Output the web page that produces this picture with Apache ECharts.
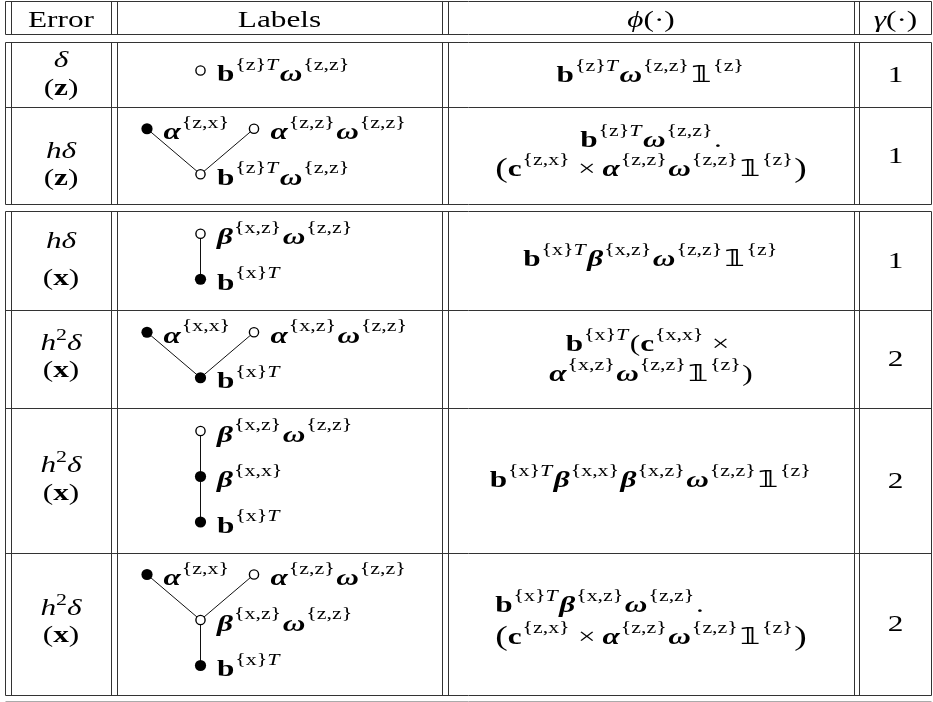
<!DOCTYPE html>
<html><head><meta charset="utf-8">
<script src="https://cdn.jsdelivr.net/npm/echarts@6.0.0/dist/echarts.min.js"></script>
<style>html,body{margin:0;padding:0;background:#fff}#c{width:933px;height:702px}</style>
</head><body><div id="c"></div>
<script>
// ================= DATA (content only) =================
// mini markup: segments "style:text" joined by "|"
// r roman, b bold, i italic, g bold-italic, s superscript ({..} roman, T italic),
// S roman superscript, _ thin space, m binary operator, d double-struck one, P big paren
const headers = ['r:Error', 'r:Labels', 'i:ϕ|r:(·)', 'i:γ|r:(·)'];

const errorLabels = [
  ['i:δ', 'r:(|b:z|r:)'],
  ['i:hδ', 'r:(|b:z|r:)'],
  ['i:hδ', 'r:(|b:x|r:)'],
  ['i:h|S:2|i:δ', 'r:(|b:x|r:)'],
  ['i:h|S:2|i:δ', 'r:(|b:x|r:)'],
  ['i:h|S:2|i:δ', 'r:(|b:x|r:)']
];

// trees: [label, filled (1) / open (0), parent index]
const labelTrees = [
  [['b:b|s:{z}T|_|g:ω|s:{z,z}', 0, -1]],
  [['b:b|s:{z}T|g:ω|s:{z,z}', 0, -1], ['g:α|s:{z,x}', 1, 0], ['g:α|s:{z,z}|g:ω|s:{z,z}', 0, 0]],
  [['b:b|s:{x}T', 1, -1], ['g:β|s:{x,z}|_|g:ω|s:{z,z}', 0, 0]],
  [['b:b|s:{x}T', 1, -1], ['g:α|s:{x,x}', 1, 0], ['g:α|s:{x,z}|g:ω|s:{z,z}', 0, 0]],
  [['b:b|s:{x}T', 1, -1], ['g:β|s:{x,x}', 1, 0], ['g:β|s:{x,z}|_|g:ω|s:{z,z}', 0, 1]],
  [['b:b|s:{x}T', 1, -1], ['g:β|s:{x,z}|_|g:ω|s:{z,z}', 0, 0], ['g:α|s:{z,x}', 1, 1], ['g:α|s:{z,z}|g:ω|s:{z,z}', 0, 1]]
];

const phiFormulas = [
  ['b:b|s:{z}T|_|g:ω|s:{z,z}|_|d:1|s:{z}'],
  ['b:b|s:{z}T|g:ω|s:{z,z}|r:.', 'P:(|b:c|s:{z,x}|m:×|g:α|s:{z,z}|g:ω|s:{z,z}|d:1|s:{z}|P:)'],
  ['b:b|s:{x}T|_|g:β|s:{x,z}|_|g:ω|s:{z,z}|_|d:1|s:{z}'],
  ['b:b|s:{x}T|_|r:(|b:c|s:{x,x}|m:×', 'g:α|s:{x,z}|_|g:ω|s:{z,z}|_|d:1|s:{z}|r:)'],
  ['b:b|s:{x}T|_|g:β|s:{x,x}|_|g:β|s:{x,z}|_|g:ω|s:{z,z}|_|d:1|s:{z}'],
  ['b:b|s:{x}T|_|g:β|s:{x,z}|_|g:ω|s:{z,z}|r:.', 'P:(|b:c|s:{z,x}|m:×|g:α|s:{z,z}|g:ω|s:{z,z}|d:1|s:{z}|P:)']
];

const gammaValues = [1, 1, 1, 2, 2, 2];

// ================= LAYOUT (positions / sizes / styles) =================
const W = 933, H = 702;
const LAYOUT = {
  ruleX: [5, 11, 111, 117, 442, 448, 854, 859, 931.5],
  ruleY: [1, 34.5, 42, 107, 204, 211, 310, 408, 553, 695],
  lastRuleY: 701.5,
  vSpans: [[1, 34.5], [42, 204], [211, 695]],
  rows: [[42, 107], [107, 204], [211, 310], [310, 408], [408, 553], [553, 695]],
  headerBaseline: 26.5,
  colCenter: [61, 279.5, 651, 895.5],
  errorBaselines: [[66.5, 95], [158, 185], [248, 285], [350, 377], [472, 500], [615, 642]],
  phiBaselines: [[82], [147, 176], [266], [351, 381], [487], [612, 644]],
  gammaBaselines: [82, 163, 268, 366, 488, 631],
  phiAlign: ['c', 'c', 'c', 'c', 'c', 'l'],
  tree: { rootX: 200.5, dx: 53.5, levelGap: 45.5, centerShift: -4, labelDx: 16.5, labelDy: 10.5,
          rFilled: 5.6, rOpen: 4.6, openStroke: 1.4 },
  ruleColor: '#333', ruleWidth: 1
};
const F = 23;         // glyph height scale
const SX = 1.36;      // horizontal glyph stretch of the reference rendering
const SERIF = '"Liberation Serif", "DejaVu Serif", serif';
const DS = '"DejaVu Sans", "DejaVu Serif", sans-serif';

// ================= text layout helpers =================
const mctx = document.createElement('canvas').getContext('2d');
function fontStr(st, wt, sz, fam) { return st + ' ' + wt + ' ' + sz + 'px ' + fam; }
function measure(t, st, wt, sz, fam) { mctx.font = fontStr(st, wt, sz, fam); return mctx.measureText(t).width * SX; }
const midCache = {};
function midToBase(st, wt, sz, fam) {
  const key = fontStr(st, wt, sz, fam);
  if (midCache[key] === undefined) {
    mctx.font = key; mctx.textBaseline = 'middle';
    const m = mctx.measureText('H');
    mctx.textBaseline = 'alphabetic';
    midCache[key] = m.actualBoundingBoxDescent;
  }
  return midCache[key];
}
function buildRuns(src) {
  const runs = []; let x = 0;
  const push = (t, st, wt, sz, dy, fam) => {
    fam = fam || SERIF;
    const w = measure(t, st, wt, sz, fam);
    runs.push({ t, st, wt, sz, dy, fam, x }); x += w;
  };
  src.split('|').forEach(seg => {
    const k = seg.indexOf(':');
    const key = seg.slice(0, k), t = seg.slice(k + 1);
    const S = F * 0.7;
    switch (key) {
      case 'r': push(t, 'normal', 'normal', F, 0); break;
      case 'b': push(t, 'normal', 'bold', F, 0); break;
      case 'i': push(t, 'italic', 'normal', F, 0); break;
      case 'g': push(t, 'italic', 'bold', F, 0); break;
      case 's': {
        let buf = '';
        x += 0.03 * F * SX;
        for (const ch of t) {
          if (ch === 'T') {
            if (buf) { push(buf, 'normal', 'normal', S, -0.5 * F); buf = ''; }
            push('T', 'italic', 'normal', S, -0.5 * F);
          } else buf += ch;
        }
        if (buf) push(buf, 'normal', 'normal', S, -0.5 * F);
        x += 0.05 * F * SX;
        break;
      }
      case 'S': push(t, 'normal', 'normal', S, -0.45 * F); break;
      case '_': x += 0.26 * F * SX; break;
      case 'm': x += 0.22 * F * SX; push(t, 'normal', 'normal', F, 0); x += 0.22 * F * SX; break;
      case 'd': push('𝟙', 'normal', 'bold', F, 0, DS); break;
      case 'P': push(t, 'normal', 'normal', F * 1.2, 0.06 * F); break;
    }
  });
  return { runs, width: x };
}

// ================= build jobs from data + layout =================
const textJobs = [];   // {src, x, y, align}
headers.forEach((h, c) => textJobs.push({ src: h, x: LAYOUT.colCenter[c], y: LAYOUT.headerBaseline, align: 'c' }));
LAYOUT.rows.forEach((r, i) => {
  errorLabels[i].forEach((s, j) => textJobs.push({
    src: s, x: LAYOUT.colCenter[0], y: LAYOUT.errorBaselines[i][j], align: 'c' }));
  const lines = phiFormulas[i];
  let leftX = null;
  if (LAYOUT.phiAlign[i] === 'l') {
    const wMax = Math.max.apply(null, lines.map(l => buildRuns(l).width));
    leftX = LAYOUT.colCenter[2] - wMax / 2;
  }
  lines.forEach((l, j) => textJobs.push({
    src: l, x: leftX === null ? LAYOUT.colCenter[2] : leftX,
    y: LAYOUT.phiBaselines[i][j], align: leftX === null ? 'c' : 'l' }));
  textJobs.push({ src: 'r:' + gammaValues[i], x: LAYOUT.colCenter[3], y: LAYOUT.gammaBaselines[i], align: 'c' });
});

const treeNodes = [];  // [x, y, filled]
const treeEdges = [];  // [x1, y1, x2, y2]
labelTrees.forEach((tree, i) => {
  const r = LAYOUT.rows[i];
  const cy = (r[0] + r[1]) / 2 + LAYOUT.tree.centerShift;
  const depth = tree.map(() => 0);
  tree.forEach((n, k) => { if (n[2] >= 0) depth[k] = depth[n[2]] + 1; });
  const maxD = Math.max.apply(null, depth);
  const pos = [];
  tree.forEach((n, k) => {
    let x;
    if (n[2] < 0) x = LAYOUT.tree.rootX;
    else {
      const sibs = tree.map((m, q) => q).filter(q => tree[q][2] === n[2]);
      const idx = sibs.indexOf(k);
      x = pos[n[2]][0] + (sibs.length === 1 ? 0 : (idx === 0 ? -1 : 1) * LAYOUT.tree.dx);
    }
    const y = cy + ((maxD - depth[k]) - maxD / 2) * LAYOUT.tree.levelGap;
    pos.push([x, y]);
  });
  tree.forEach((n, k) => {
    if (n[2] >= 0) treeEdges.push([pos[n[2]][0], pos[n[2]][1], pos[k][0], pos[k][1]]);
    treeNodes.push([pos[k][0], pos[k][1], n[1]]);
    textJobs.push({ src: n[0], x: pos[k][0] + LAYOUT.tree.labelDx, y: pos[k][1] + LAYOUT.tree.labelDy, align: 'l' });
  });
});

const rules = [];
LAYOUT.ruleY.forEach(y => rules.push([LAYOUT.ruleX[0], y, LAYOUT.ruleX[LAYOUT.ruleX.length - 1], y, 0]));
rules.push([LAYOUT.ruleX[0], LAYOUT.lastRuleY, LAYOUT.ruleX[LAYOUT.ruleX.length - 1], LAYOUT.lastRuleY, 1]);
LAYOUT.ruleX.forEach(x => LAYOUT.vSpans.forEach(s => rules.push([x, s[0], x, s[1], 0])));

// ================= chart =================
const chart = echarts.init(document.getElementById('c'), null, { renderer: 'canvas' });
function crisp(v) { return Math.floor(v) + 0.5; }
chart.setOption({
  animation: false,
  backgroundColor: '#fff',
  grid: { left: 0, right: 0, top: 0, bottom: 0 },
  xAxis: { type: 'value', min: 0, max: W, show: false },
  yAxis: { type: 'value', min: 0, max: H, inverse: true, show: false },
  series: [
    { type: 'custom', silent: true, data: rules, encode: { x: [0, 2], y: [1, 3] },
      renderItem: (p, api) => {
        const a = api.coord([api.value(0), api.value(1)]);
        const b = api.coord([api.value(2), api.value(3)]);
        const light = api.value(4) === 1;
        return { type: 'line', shape: { x1: crisp(a[0]), y1: crisp(a[1]), x2: crisp(b[0]), y2: crisp(b[1]) },
          style: { stroke: light ? '#aaa' : LAYOUT.ruleColor, lineWidth: LAYOUT.ruleWidth } };
      } },
    { type: 'custom', silent: true, data: treeEdges, encode: { x: [0, 2], y: [1, 3] },
      renderItem: (p, api) => {
        const a = api.coord([api.value(0), api.value(1)]);
        const b = api.coord([api.value(2), api.value(3)]);
        return { type: 'line', shape: { x1: a[0], y1: a[1], x2: b[0], y2: b[1] },
          style: { stroke: '#111', lineWidth: 1 } };
      } },
    { type: 'custom', silent: true, data: treeNodes, encode: { x: 0, y: 1 },
      renderItem: (p, api) => {
        const c = api.coord([api.value(0), api.value(1)]);
        const filled = api.value(2) === 1;
        return { type: 'circle',
          shape: { cx: c[0], cy: c[1], r: filled ? LAYOUT.tree.rFilled : LAYOUT.tree.rOpen },
          style: filled ? { fill: '#000' } : { fill: '#fff', stroke: '#000', lineWidth: LAYOUT.tree.openStroke } };
      } },
    { type: 'custom', silent: true, data: textJobs.map((j, i) => [j.x, j.y, i]), encode: { x: 0, y: 1 },
      renderItem: (p, api) => {
        const job = textJobs[api.value(2)];
        const pt = api.coord([api.value(0), api.value(1)]);
        const lay = buildRuns(job.src);
        const x0 = pt[0] - (job.align === 'c' ? lay.width / 2 : 0);
        return { type: 'group', children: lay.runs.map(r => ({
          type: 'text', x: x0 + r.x, y: pt[1] + r.dy - midToBase(r.st, r.wt, r.sz, r.fam), scaleX: SX,
          style: { text: r.t, fontSize: r.sz, fontFamily: r.fam, fontStyle: r.st, fontWeight: r.wt,
                   fill: '#000', align: 'left', verticalAlign: 'middle' } })) };
      } }
  ]
});
</script>
</body></html>
